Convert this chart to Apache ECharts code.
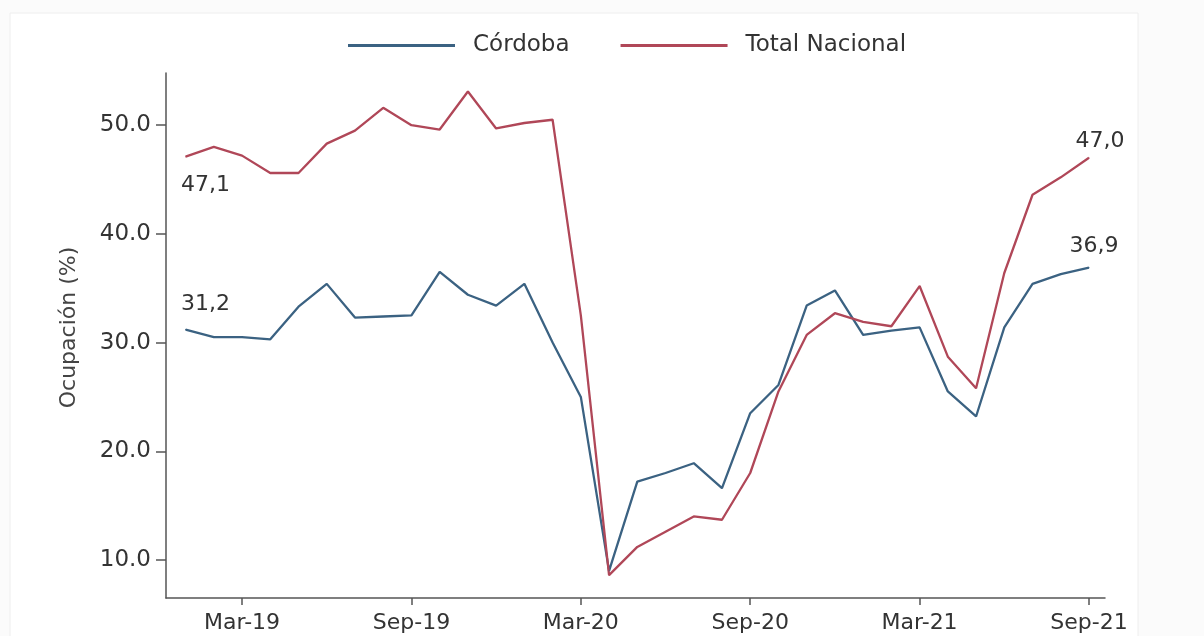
<!DOCTYPE html>
<html>
<head>
<meta charset="utf-8">
<script src="https://cdn.jsdelivr.net/npm/echarts@6/dist/echarts.min.js"></script>
<style>
html,body{margin:0;padding:0;background:#fbfbfb;}
#chart{width:1204px;height:636px;}
</style>
</head>
<body>
<div id="chart"></div>
<script>
const months = ['Jan-19','Feb-19','Mar-19','Apr-19','May-19','Jun-19','Jul-19','Aug-19','Sep-19','Oct-19','Nov-19','Dec-19',
  'Jan-20','Feb-20','Mar-20','Apr-20','May-20','Jun-20','Jul-20','Aug-20','Sep-20','Oct-20','Nov-20','Dec-20',
  'Jan-21','Feb-21','Mar-21','Apr-21','May-21','Jun-21','Jul-21','Aug-21','Sep-21'];
const cordoba = [31.2,30.5,30.5,30.3,33.3,35.4,32.3,32.4,32.5,36.5,34.4,33.4,
  35.4,30.0,25.0,9.0,17.2,18.0,18.9,16.6,23.5,26.1,33.4,34.8,
  30.7,31.1,31.4,25.5,23.2,31.4,35.4,36.3,36.9];
const nacional = [47.1,48.0,47.2,45.6,45.6,48.3,49.5,51.6,50.0,49.6,53.1,49.7,
  50.2,50.5,32.5,8.6,11.2,12.6,14.0,13.7,18.0,25.5,30.7,32.7,
  31.9,31.5,35.2,28.7,25.8,36.4,43.6,45.2,47.0];
const tickLabels = ['Mar-19','Sep-19','Mar-20','Sep-20','Mar-21','Sep-21'];
const yTicks = [10,20,30,40,50];
const seriesNames = ['Córdoba','Total Nacional'];

const FONT = '"DejaVu Sans", sans-serif';
const tickIdx = tickLabels.map(l => months.indexOf(l));
const fmt = v => v.toFixed(1).replace('.', ',');

function build(values, firstOff, lastOff) {
  return values.map((v, i) => {
    const item = { value: [i, v] };
    if (i === 0 || i === values.length - 1) {
      item.label = { show: true, position: 'inside', offset: i === 0 ? firstOff : lastOff };
    }
    return item;
  });
}

const chart = echarts.init(document.getElementById('chart'), null, {renderer: 'canvas'});
chart.setOption({
  animation: false,
  backgroundColor: '#fbfbfb',
  graphic: [{
    type: 'rect', silent: true, z: -10,
    shape: { x: 10, y: 13, width: 1128, height: 640 },
    style: { fill: '#ffffff', stroke: '#eeeeee', lineWidth: 1 }
  }],
  legend: {
    top: 29, left: 343,
    itemWidth: 107, itemHeight: 3, itemGap: 51,
    icon: 'rect',
    textStyle: { fontFamily: FONT, fontSize: 23, color: '#333', padding: [0,0,0,13] },
    data: seriesNames
  },
  grid: { left: 166, right: 99, top: 73, bottom: 38, containLabel: false },
  xAxis: {
    type: 'value', min: -0.694, max: 32.567,
    axisLine: { show: true, onZero: false, lineStyle: { color: '#555', width: 1.5 } },
    axisTick: { show: true, customValues: tickIdx, length: 7, lineStyle: { color: '#555', width: 1.5 } },
    axisLabel: { customValues: tickIdx, formatter: v => months[Math.round(v)],
      fontFamily: FONT, fontSize: 22, color: '#333', margin: 14 },
    splitLine: { show: false }
  },
  yAxis: {
    type: 'value', min: 6.5, max: 54.8,
    name: 'Ocupación (%)', nameLocation: 'middle', nameGap: 86,
    nameTextStyle: { fontFamily: FONT, fontSize: 22, color: '#444', padding: [0,0,0,16] },
    axisLine: { show: true, onZero: false, lineStyle: { color: '#555', width: 1.5 } },
    axisTick: { show: true, customValues: yTicks, length: 10, lineStyle: { color: '#555', width: 1.5 } },
    axisLabel: { customValues: yTicks, formatter: v => v.toFixed(1),
      fontFamily: FONT, fontSize: 23, color: '#333', margin: 15 },
    splitLine: { show: false }
  },
  series: [
    {
      name: seriesNames[0], type: 'line',
      data: build(cordoba, [20, -25], [5, -21]),
      symbol: 'circle', symbolSize: 1, showSymbol: true,
      lineStyle: { color: '#3b6282', width: 2.3 },
      itemStyle: { color: '#3b6282' },
      label: { show: false, formatter: p => fmt(p.value[1]), fontFamily: FONT, fontSize: 22, color: '#333' },
      emphasis: { disabled: true }, silent: true
    },
    {
      name: seriesNames[1], type: 'line',
      data: build(nacional, [20, 29], [11, -17]),
      symbol: 'circle', symbolSize: 1, showSymbol: true,
      lineStyle: { color: '#b04758', width: 2.3 },
      itemStyle: { color: '#b04758' },
      label: { show: false, formatter: p => fmt(p.value[1]), fontFamily: FONT, fontSize: 22, color: '#333' },
      emphasis: { disabled: true }, silent: true
    }
  ]
});
</script>
</body>
</html>
